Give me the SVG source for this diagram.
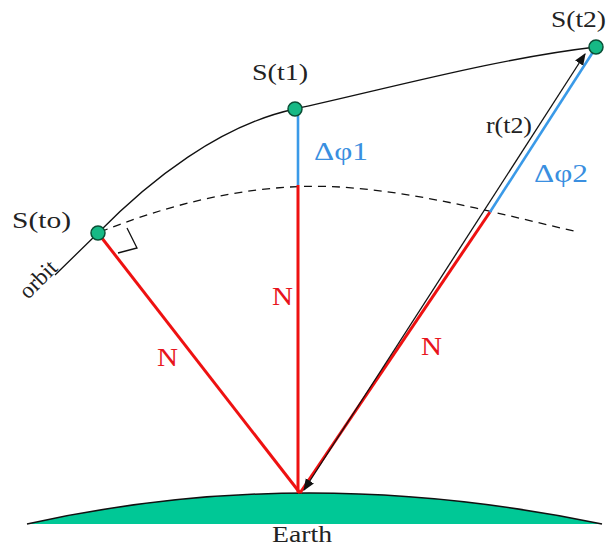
<svg xmlns="http://www.w3.org/2000/svg" width="607" height="547" viewBox="0 0 607 547" font-family="Liberation Serif">
<style>
.lbl{fill:#222;font-size:23px;}
.n{fill:#e8141c;font-size:25px;}
.dp{fill:#3a8fe0;font-size:25px;}
.red{stroke:#ee1111;stroke-width:3;fill:none;}
.blue{stroke:#3a9ae8;stroke-width:2.6;fill:none;}
.sat{fill:#16b985;stroke:#0a4f36;stroke-width:1.5;}
</style>
<defs>
<marker id="ah" viewBox="0 0 10 10" refX="9" refY="5" markerWidth="12" markerHeight="12" markerUnits="userSpaceOnUse" orient="auto-start-reverse">
<path d="M0,1 L10,5 L0,9 Z" fill="#111"/>
</marker>
</defs>
<rect width="607" height="547" fill="#fff"/>
<g id="earth">
<path d="M27,524 Q304,462 602,524 Z" fill="#00c896"/>
<path d="M27,524 Q304,462 602,524" fill="none" stroke="#111" stroke-width="1.5"/>
<text class="lbl" x="272" y="542" font-family="Liberation Serif" font-size="22" textLength="60" lengthAdjust="spacingAndGlyphs">Earth</text>
</g>
<g id="connectors">
<path id="orbit-line" d="M55,275 L98,233 C150,180 220,125 295,109 C390,88 500,58 596,47" fill="none" stroke="#111" stroke-width="1.3"/>
<path id="dashed" d="M100,232 C190,196 270,183 340,187 C420,192 500,214 578,232" fill="none" stroke="#111" stroke-width="1.3" stroke-dasharray="8,6"/>
<polyline points="127,228 137,248 118,253" fill="none" stroke="#111" stroke-width="1.3"/>
<line class="red" x1="98" y1="233" x2="300" y2="493"/>
<line class="red" x1="298" y1="185" x2="298" y2="493"/>
<line class="blue" x1="298" y1="110" x2="298" y2="185"/>
<line class="red" x1="300" y1="493" x2="490" y2="212"/>
<line class="blue" x1="490" y1="212" x2="593" y2="52"/>
<line x1="304" y1="490" x2="585" y2="54" stroke="#111" stroke-width="1.3" marker-start="url(#ah)" marker-end="url(#ah)"/>
</g>
<g id="s-t0">
<circle class="sat" cx="98" cy="233" r="7"/>
<text class="lbl" x="12" y="228" font-family="Liberation Serif" textLength="59" lengthAdjust="spacingAndGlyphs">S(to)</text>
</g>
<g id="s-t1">
<circle class="sat" cx="295" cy="109" r="7"/>
<text class="lbl" x="252" y="80" font-family="Liberation Serif" textLength="56" lengthAdjust="spacingAndGlyphs">S(t1)</text>
</g>
<g id="s-t2">
<circle class="sat" cx="596" cy="47" r="7"/>
<text class="lbl" x="551" y="27" font-family="Liberation Serif" textLength="55" lengthAdjust="spacingAndGlyphs">S(t2)</text>
</g>
<g id="labels">
<text class="lbl" font-family="Liberation Serif" font-size="17" transform="translate(28,300) rotate(-45)">orbit</text>
<text class="dp" x="314" y="160" font-family="Liberation Serif" textLength="54" lengthAdjust="spacingAndGlyphs">Δφ1</text>
<text class="dp" x="534" y="182" font-family="Liberation Serif" textLength="54" lengthAdjust="spacingAndGlyphs">Δφ2</text>
<text class="lbl" x="486" y="133" font-family="Liberation Serif" font-size="18" textLength="46" lengthAdjust="spacingAndGlyphs">r(t2)</text>
<text class="n" x="157" y="366" font-family="Liberation Serif" textLength="21" lengthAdjust="spacingAndGlyphs">N</text>
<text class="n" x="272" y="305" font-family="Liberation Serif" textLength="21" lengthAdjust="spacingAndGlyphs">N</text>
<text class="n" x="421" y="355" font-family="Liberation Serif" textLength="21" lengthAdjust="spacingAndGlyphs">N</text>
</g>
</svg>
